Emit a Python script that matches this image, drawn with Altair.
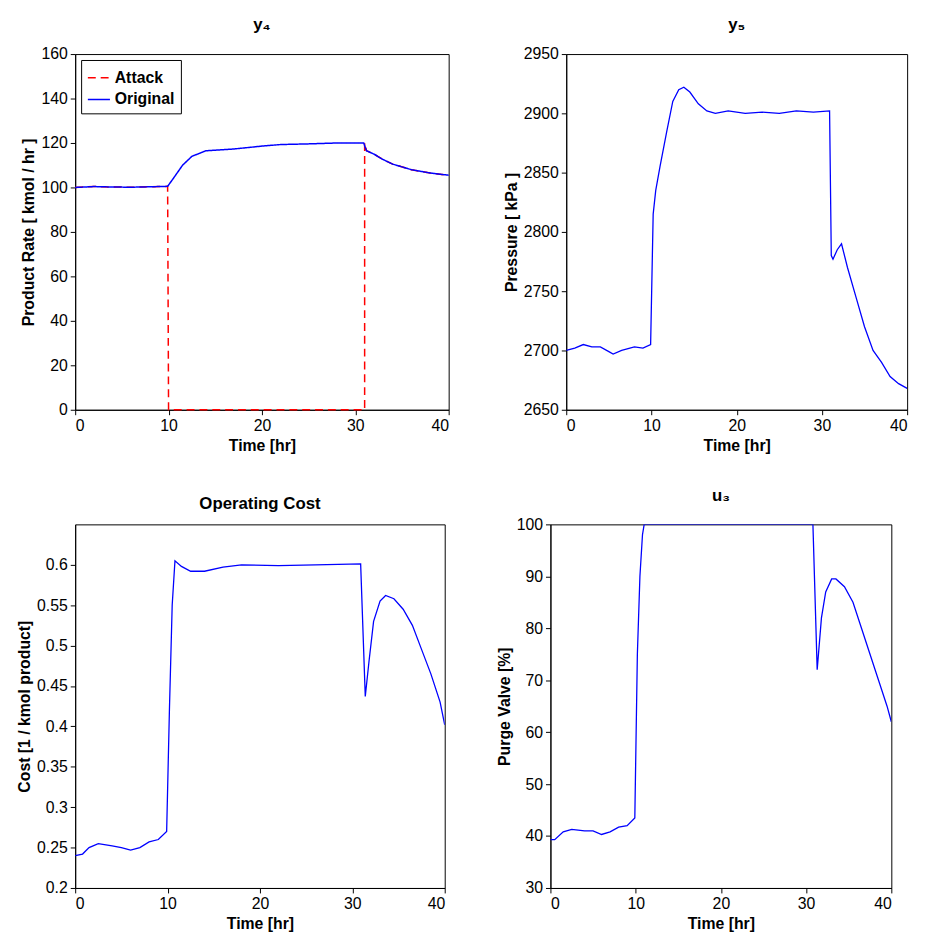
import altair as alt
import pandas as pd

# y4 product rate
t_y4 = [0, 2, 4, 6, 8, 9.9, 10.5, 11.5, 12.5, 14, 17, 20, 22, 25, 28, 30.9, 31.2, 32, 33, 34, 36, 38, 40]
y4 = [100, 100.4, 100.2, 100.1, 100.3, 100.5, 104, 110, 114, 116.5, 117.3, 118.6, 119.3, 119.6, 120, 120, 116.5, 115, 112.5, 110.5, 108, 106.5, 105.5]
t_att = [0, 2, 4, 6, 8, 9.9, 10, 31, 31, 31.2, 32, 33, 34, 36, 38, 40]
att = [100, 100.4, 100.2, 100.1, 100.3, 100.5, 0, 0, 120, 116.5, 115, 112.5, 110.5, 108, 106.5, 105.5]

# y5 pressure
t_y5 = [0, 1, 2, 3, 4, 5, 5.5, 6.5, 8, 9, 9.9, 10.2, 10.5, 11, 11.8, 12.5, 13.2, 13.8, 14.5, 15.5, 16.5, 17.5, 19, 21, 23, 25, 27, 29, 30.9, 31.1, 31.3, 31.8, 32.3, 33, 34, 35, 36, 37, 38, 39, 40]
y5 = [2700, 2702, 2705, 2703, 2703, 2699, 2697, 2700, 2703, 2702, 2705, 2815, 2835, 2855, 2885, 2910, 2920, 2922, 2918, 2908, 2902, 2900, 2902, 2900, 2901, 2900, 2902, 2901, 2902, 2780, 2777, 2785, 2790, 2770, 2745, 2720, 2700, 2690, 2678, 2672, 2668]

# operating cost
t_c = [0, 0.8, 1.5, 2.5, 4, 5, 6, 7, 8, 9, 9.9, 10.2, 10.5, 10.8, 11.5, 12.5, 14, 16, 18, 22, 26, 30.9, 31.4, 31.8, 32.3, 33, 33.6, 34.5, 35.5, 36.5, 37.5, 38.5, 39.5, 40]
cost = [0.24, 0.242, 0.25, 0.255, 0.252, 0.25, 0.247, 0.25, 0.257, 0.26, 0.27, 0.42, 0.55, 0.605, 0.598, 0.592, 0.592, 0.597, 0.6, 0.599, 0.6, 0.601, 0.437, 0.48, 0.53, 0.555, 0.562, 0.558, 0.545, 0.525, 0.495, 0.465, 0.43, 0.402]

# u3 purge valve
t_u = [0, 0.5, 1.5, 2.5, 4, 5, 6, 7, 8, 9, 9.9, 10.2, 10.5, 10.8, 11, 30.8, 31.3, 31.8, 32.3, 33, 33.5, 34.5, 35.5, 36.5, 37.5, 38.5, 39.5, 40]
u3 = [39.3, 39.3, 40.8, 41.3, 41, 41, 40.3, 40.8, 41.7, 42, 43.5, 75, 90, 98, 100, 100, 72, 82, 87, 89.5, 89.5, 88, 85, 80, 75, 70, 65, 62]

font = "Liberation Sans"
xaxis = alt.X("t:Q", title="Time [hr]", scale=alt.Scale(domain=[0, 40], nice=False),
              axis=alt.Axis(values=[0, 10, 20, 30, 40]))


def panel(df, title, ytitle, ydom, yticks, fmt):
    return alt.Chart(df).mark_line(clip=True, strokeWidth=1.3).encode(
        x=xaxis,
        y=alt.Y("v:Q", title=ytitle, scale=alt.Scale(domain=ydom, nice=False, zero=False),
                axis=alt.Axis(values=yticks, format=fmt)),
        color=alt.value("#0000ff"),
    ).properties(title=title, width=345, height=360)


d4 = pd.concat([
    pd.DataFrame({"t": t_att, "v": att, "s": "Attack", "o": range(len(t_att))}),
    pd.DataFrame({"t": t_y4, "v": y4, "s": "Original", "o": range(len(t_y4))}),
])
p1 = alt.Chart(d4).mark_line(clip=False, strokeWidth=1.5).encode(
    x=xaxis,
    y=alt.Y("v:Q", title="Product Rate [ kmol / hr ]", scale=alt.Scale(domain=[0, 160], nice=False),
            axis=alt.Axis(values=list(range(0, 161, 20)))),
    color=alt.Color("s:N", scale=alt.Scale(domain=["Attack", "Original"], range=["#ff0000", "#0000ff"]),
                    legend=alt.Legend(title=None, orient="top-left", offset=6, strokeColor="black",
                                      fillColor="white", padding=6, labelFontSize=16,
                                      labelFont=font, labelFontWeight="bold", symbolSize=500,
                                      symbolStrokeWidth=1.5, symbolType="stroke")),
    strokeDash=alt.StrokeDash("s:N", scale=alt.Scale(domain=["Attack", "Original"], range=[[8, 5], [1, 0]]),
                              legend=None),
    order="o:Q",
).properties(title="y₄", width=378, height=360)

p2 = panel(pd.DataFrame({"t": t_y5, "v": y5}), "y₅", "Pressure [ kPa ]", [2650, 2950],
           list(range(2650, 2951, 50)), "d")
p3 = panel(pd.DataFrame({"t": t_c, "v": cost}), "Operating Cost", "Cost [1 / kmol product]", [0.2, 0.65],
           [0.2, 0.25, 0.3, 0.35, 0.4, 0.45, 0.5, 0.55, 0.6], "~g").properties(width=374, height=368)
p4 = panel(pd.DataFrame({"t": t_u, "v": u3}), "u₃", "Purge Valve [%]", [30, 100],
           list(range(30, 101, 10)), "d").properties(height=368)

chart = alt.vconcat(
    alt.hconcat(p1, p2, spacing=50),
    alt.hconcat(p3, p4, spacing=50),
    spacing=32,
).properties(padding={"left": 8, "top": 2, "right": 10, "bottom": 0}
).configure_view(stroke="black", strokeWidth=1).configure_axis(
    grid=False, domainColor="black", tickColor="black", labelColor="black", titleColor="black",
    labelFont=font, titleFont=font, labelFontSize=16, titleFontSize=16, labelFontWeight="normal",
    titleFontWeight="bold", tickSize=5, labelPadding=3, titlePadding=4,
).configure_title(font=font, fontSize=17, fontWeight="bold", color="black", offset=12)

chart.save("out.html", embed_options={"renderer": "svg", "actions": False})
